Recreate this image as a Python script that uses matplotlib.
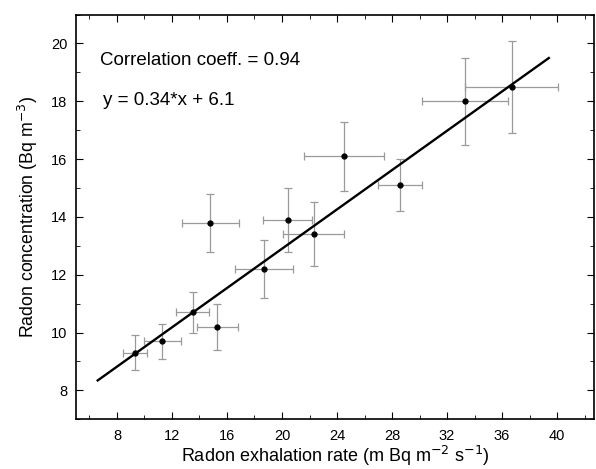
import matplotlib
matplotlib.use("Agg")
import matplotlib.pyplot as plt
import numpy as np

plt.rcParams['font.family'] = ['Liberation Sans', 'DejaVu Sans']

# exhalation rate (x) vs concentration (y), with errors
x = [9.3, 11.3, 13.5, 15.3, 14.8, 18.7, 20.4, 22.3, 24.5, 28.6, 33.3, 36.7]
y = [9.3, 9.7, 10.7, 10.2, 13.8, 12.2, 13.9, 13.4, 16.1, 15.1, 18.0, 18.5]
xerr = [0.85, 1.35, 1.2, 1.5, 2.1, 2.1, 1.8, 2.2, 2.9, 1.6, 3.1, 3.4]
yerr = [0.6, 0.6, 0.7, 0.8, 1.0, 1.0, 1.1, 1.1, 1.2, 0.9, 1.5, 1.6]
slope, intercept = 0.34, 6.1
fit_range = [6.6, 39.4]

fig = plt.figure(figsize=(5.96, 4.69), dpi=100)
ax = fig.add_axes([0.127, 0.106, 0.870, 0.863])

ax.errorbar(x, y, xerr=xerr, yerr=yerr, fmt='o', color='black', ms=3.5,
            ecolor='#9a9a9a', elinewidth=0.9, capsize=3, capthick=0.9,
            linestyle='none', zorder=3)
xf = np.array(fit_range)
ax.plot(xf, slope * xf + intercept, color='black', lw=1.7, zorder=4)

ax.text(6.77, 19.42, 'Correlation coeff. = 0.94', fontsize=13.5, va='center')
ax.text(7.0, 18.03, 'y = 0.34*x + 6.1', fontsize=13.5, va='center')

ax.set_xlim(5, 42.7)
ax.set_ylim(7, 21)
ax.set_xticks(np.arange(8, 41, 4))
ax.set_xticks(np.arange(6, 43, 2), minor=True)
ax.set_yticks(np.arange(8, 21, 2))
ax.set_yticks(np.arange(7, 22, 1), minor=True)
ax.tick_params(which='both', direction='in', top=True, right=True, labelsize=10.5)
ax.tick_params(axis='x', which='major', pad=7)
ax.tick_params(axis='y', which='major', pad=6)
ax.tick_params(which='major', length=5)
ax.tick_params(which='minor', length=3)
for s in ax.spines.values():
    s.set_linewidth(1.2)

ax.set_xlabel('Radon exhalation rate (m Bq m$^{-2}$ s$^{-1}$)', fontsize=13, labelpad=1)
ax.set_ylabel('Radon concentration (Bq m$^{-3}$)', fontsize=12.8, labelpad=8)

fig.savefig('out.png', dpi=100)
